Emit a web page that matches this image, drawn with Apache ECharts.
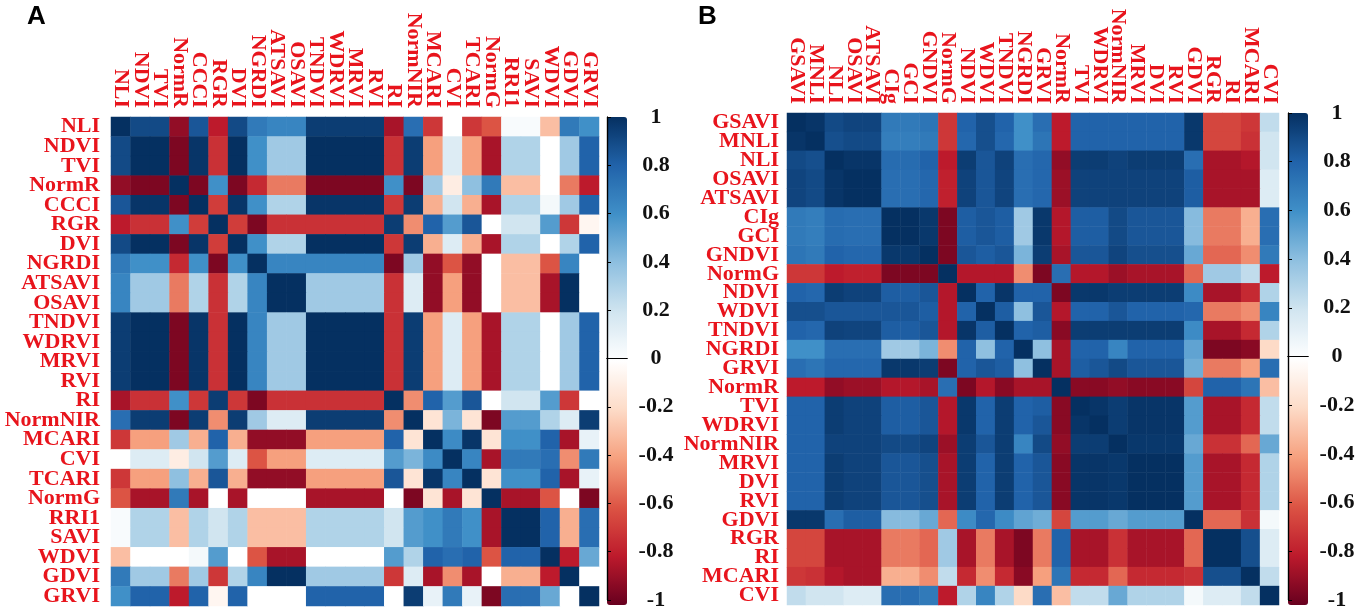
<!DOCTYPE html>
<html>
<head>
<meta charset="utf-8">
<script src="https://cdn.jsdelivr.net/npm/echarts@6/dist/echarts.min.js"></script>
<style>
  html, body { margin: 0; padding: 0; background: #fff; }
  #main { width: 1358px; height: 611px; }
</style>
</head>
<body>
<div id="main"></div>
<script>
// panel A variables (rows top->bottom, columns left->right)
const namesA = ['NLI', 'NDVI', 'TVI', 'NormR', 'CCCI', 'RGR', 'DVI', 'NGRDI', 'ATSAVI', 'OSAVI',
  'TNDVI', 'WDRVI', 'MRVI', 'RVI', 'RI', 'NormNIR', 'MCARI', 'CVI', 'TCARI', 'NormG',
  'RRI1', 'SAVI', 'WDVI', 'GDVI', 'GRVI'];

// lower triangle of correlation matrix A
const corrA = [
  [1],
  [0.9, 1],
  [0.9, 1, 1],
  [-0.9, -0.95, -0.95, 1],
  [0.85, 0.98, 0.98, -0.95, 1],
  [-0.8, -0.72, -0.72, 0.6, -0.68, 1],
  [0.9, 1, 1, -0.95, 0.98, -0.68, 1],
  [0.7, 0.6, 0.6, -0.75, 0.6, -0.95, 0.6, 1],
  [0.65, 0.35, 0.35, -0.5, 0.3, -0.72, 0.3, 0.65, 1],
  [0.65, 0.35, 0.35, -0.5, 0.3, -0.72, 0.3, 0.65, 1, 1],
  [0.95, 1, 1, -0.95, 0.98, -0.72, 1, 0.65, 0.35, 0.35, 1],
  [0.95, 1, 1, -0.95, 0.98, -0.72, 1, 0.65, 0.35, 0.35, 1, 1],
  [0.95, 1, 1, -0.95, 0.98, -0.72, 1, 0.65, 0.35, 0.35, 1, 1, 1],
  [0.95, 1, 1, -0.95, 0.98, -0.72, 1, 0.65, 0.35, 0.35, 1, 1, 1, 1],
  [-0.85, -0.72, -0.72, 0.6, -0.7, 0.95, -0.7, -0.95, -0.72, -0.72, -0.72, -0.72, -0.72, -0.72, 1],
  [0.75, 0.95, 0.95, -0.95, 0.95, -0.45, 0.95, 0.35, 0.15, 0.15, 0.95, 0.95, 0.95, 0.95, -0.45, 1],
  [-0.7, -0.4, -0.4, 0.35, -0.35, 0.8, -0.35, -0.9, -0.9, -0.9, -0.4, -0.4, -0.4, -0.4, 0.8, -0.15, 1],
  [0, 0.15, 0.15, -0.1, 0.2, 0.55, 0.15, -0.6, -0.4, -0.4, 0.15, 0.15, 0.15, 0.15, 0.55, 0.45, 0.62, 1],
  [-0.7, -0.4, -0.4, 0.4, -0.35, 0.85, -0.35, -0.9, -0.9, -0.9, -0.4, -0.4, -0.4, -0.4, 0.85, -0.15, 0.98, 0.65, 1],
  [-0.6, -0.85, -0.85, 0.7, -0.85, 0, -0.85, 0, 0, 0, -0.85, -0.85, -0.85, -0.85, 0, -0.95, -0.15, -0.85, -0.15, 1],
  [0.03, 0.3, 0.3, -0.3, 0.3, 0.2, 0.3, -0.3, -0.3, -0.3, 0.3, 0.3, 0.3, 0.3, 0.2, 0.55, 0.6, 0.7, 0.6, -0.85, 1],
  [0.03, 0.3, 0.3, -0.3, 0.3, 0.2, 0.3, -0.3, -0.3, -0.3, 0.3, 0.3, 0.3, 0.3, 0.2, 0.55, 0.6, 0.7, 0.6, -0.85, 1, 1],
  [-0.3, 0, 0, 0, 0.05, 0.55, 0, -0.6, -0.85, -0.85, 0, 0, 0, 0, 0.55, 0.3, 0.8, 0.75, 0.8, -0.6, 0.8, 0.8, 1],
  [0.7, 0.35, 0.35, -0.5, 0.35, -0.7, 0.3, 0.65, 1, 1, 0.35, 0.35, 0.35, 0.35, -0.7, 0.15, -0.85, -0.45, -0.85, 0, -0.35, -0.35, -0.8, 1],
  [0.6, 0.8, 0.8, -0.8, 0.8, -0.05, 0.8, 0, 0, 0, 0.8, 0.8, 0.8, 0.8, 0, 0.95, 0.1, 0.7, 0.1, -0.95, 0.75, 0.75, 0.5, 0, 1]
];

// panel B variables
const namesB = ['GSAVI', 'MNLI', 'NLI', 'OSAVI', 'ATSAVI', 'CIg', 'GCI', 'GNDVI', 'NormG', 'NDVI',
  'WDVI', 'TNDVI', 'NGRDI', 'GRVI', 'NormR', 'TVI', 'WDRVI', 'NormNIR', 'MRVI', 'DVI',
  'RVI', 'GDVI', 'RGR', 'RI', 'MCARI', 'CVI'];

// lower triangle of correlation matrix B
const corrB = [
  [1],
  [0.98, 1],
  [0.9, 0.88, 1],
  [0.92, 0.9, 0.98, 1],
  [0.92, 0.9, 0.98, 1, 1],
  [0.7, 0.68, 0.76, 0.75, 0.75, 1],
  [0.7, 0.68, 0.76, 0.75, 0.75, 1, 1],
  [0.72, 0.7, 0.8, 0.78, 0.78, 0.97, 0.97, 1],
  [-0.7, -0.7, -0.8, -0.78, -0.78, -0.95, -0.95, -0.95, 1],
  [0.8, 0.78, 0.95, 0.93, 0.93, 0.82, 0.82, 0.85, -0.82, 1],
  [0.88, 0.88, 0.85, 0.85, 0.85, 0.85, 0.85, 0.82, -0.82, 0.8, 1],
  [0.8, 0.78, 0.93, 0.92, 0.92, 0.82, 0.82, 0.85, -0.82, 0.98, 0.82, 1],
  [0.6, 0.6, 0.75, 0.75, 0.75, 0.35, 0.35, 0.45, -0.45, 0.8, 0.4, 0.8, 1],
  [0.75, 0.72, 0.78, 0.78, 0.78, 0.97, 0.97, 0.95, -0.95, 0.8, 0.85, 0.82, 0.4, 1],
  [-0.8, -0.8, -0.9, -0.88, -0.88, -0.82, -0.82, -0.85, 0.75, -0.95, -0.82, -0.92, -0.85, -0.85, 1],
  [0.8, 0.8, 0.95, 0.93, 0.93, 0.82, 0.82, 0.85, -0.82, 0.97, 0.8, 0.95, 0.8, 0.82, -0.92, 1],
  [0.8, 0.8, 0.95, 0.93, 0.93, 0.82, 0.82, 0.85, -0.82, 0.97, 0.8, 0.95, 0.8, 0.85, -0.92, 0.98, 1],
  [0.8, 0.8, 0.93, 0.93, 0.93, 0.9, 0.9, 0.92, -0.88, 0.95, 0.85, 0.95, 0.65, 0.9, -0.9, 0.95, 0.95, 1],
  [0.8, 0.8, 0.95, 0.93, 0.93, 0.85, 0.85, 0.88, -0.85, 0.95, 0.8, 0.95, 0.8, 0.85, -0.92, 0.98, 0.98, 0.97, 1],
  [0.8, 0.8, 0.95, 0.93, 0.93, 0.85, 0.85, 0.88, -0.85, 0.95, 0.8, 0.95, 0.8, 0.85, -0.92, 0.98, 0.98, 0.97, 1, 1],
  [0.8, 0.8, 0.95, 0.93, 0.93, 0.85, 0.85, 0.88, -0.85, 0.95, 0.8, 0.95, 0.8, 0.85, -0.92, 0.98, 0.98, 0.97, 1, 1, 1],
  [0.97, 0.97, 0.75, 0.82, 0.82, 0.42, 0.42, 0.5, -0.55, 0.62, 0.78, 0.62, 0.52, 0.48, -0.65, 0.55, 0.55, 0.5, 0.55, 0.55, 0.55, 1],
  [-0.65, -0.65, -0.85, -0.85, -0.85, -0.5, -0.5, -0.55, 0.35, -0.85, -0.5, -0.85, -0.95, -0.5, 0.8, -0.85, -0.85, -0.72, -0.85, -0.85, -0.85, -0.55, 1],
  [-0.65, -0.65, -0.85, -0.85, -0.85, -0.5, -0.5, -0.55, 0.35, -0.85, -0.5, -0.85, -0.95, -0.5, 0.8, -0.85, -0.85, -0.72, -0.85, -0.85, -0.85, -0.55, 1, 1],
  [-0.7, -0.72, -0.82, -0.85, -0.85, -0.35, -0.35, -0.45, 0.25, -0.75, -0.45, -0.75, -0.92, -0.4, 0.72, -0.75, -0.75, -0.55, -0.75, -0.75, -0.75, -0.72, 0.88, 0.88, 1],
  [0.25, 0.2, 0.2, 0.15, 0.15, 0.75, 0.75, 0.7, -0.8, 0.3, 0.65, 0.3, -0.2, 0.75, -0.3, 0.25, 0.25, 0.5, 0.3, 0.3, 0.3, 0.05, 0.15, 0.15, 0.25, 1]
];

const cmap = ['#67001f', '#bd1a2c', '#dc5444', '#f6a07e', '#fddbc7', '#ffffff',
  '#d1e5f0', '#8fc0e0', '#4090c8', '#2163aa', '#053061'];

// expand triangle -> [x, y, value] cells
function cells(tri) {
  const out = [];
  const n = tri.length;
  for (let r = 0; r < n; r++) {
    for (let c = 0; c < n; c++) {
      const v = r >= c ? tri[r][c] : tri[c][r];
      out.push([c, r, v]);
    }
  }
  return out;
}

const chart = echarts.init(document.getElementById('main'), null, { renderer: 'canvas' });

const serif = 'Liberation Serif, Times New Roman, serif';
const redLab = { color: '#e8141c', fontFamily: serif, fontWeight: 'bold', fontSize: 22 };

function heatAxes(names, gi, ym) {
  return {
    x: {
      type: 'category', gridIndex: gi, data: names, position: 'top',
      axisLine: { show: false }, axisTick: { show: false }, splitLine: { show: false },
      axisLabel: Object.assign({ rotate: 90, interval: 0, margin: 9 }, redLab)
    },
    y: {
      type: 'category', gridIndex: gi, data: names, inverse: true,
      axisLine: { show: false }, axisTick: { show: false }, splitLine: { show: false },
      axisLabel: Object.assign({ interval: 0, margin: ym }, redLab)
    }
  };
}

function barAxes(gi) {
  const line = { show: true, lineStyle: { color: '#000', width: 1.2 } };
  return {
    xs: [
      { type: 'value', gridIndex: gi, min: 0, max: 1, position: 'bottom', z: 10,
        axisLine: line, axisTick: { show: false }, axisLabel: { show: false }, splitLine: { show: false } },
      { type: 'value', gridIndex: gi, min: 0, max: 1, position: 'top', z: 10,
        axisLine: line, axisTick: { show: false }, axisLabel: { show: false }, splitLine: { show: false } }
    ],
    ys: [
      { type: 'value', gridIndex: gi, min: -1, max: 1, interval: 0.2, position: 'right', z: 10,
        axisLine: line, axisTick: { show: true, length: 4, lineStyle: { color: '#000' } },
        splitLine: { show: false },
        axisLabel: { color: '#111', fontFamily: serif, fontWeight: 'bold', fontSize: 22, align: 'center', margin: 29 } },
      { type: 'value', gridIndex: gi, min: -1, max: 1, position: 'left', z: 10,
        axisLine: line, axisTick: { show: false }, axisLabel: { show: false }, splitLine: { show: false } }
    ]
  };
}

const hA = heatAxes(namesA, 0, 11);
const hB = heatAxes(namesB, 1, 8);
const cA = barAxes(2);
const cB = barAxes(3);

const panelTitle = { fontFamily: 'Liberation Sans, Arial, sans-serif', fontWeight: 'bold', fontSize: 26, color: '#000' };

const option = {
  backgroundColor: '#fff',
  animation: false,
  title: [
    { text: 'A', left: 27, top: 4, padding: 0, textStyle: panelTitle },
    { text: 'B', left: 698, top: 4, padding: 0, textStyle: panelTitle }
  ],
  grid: [
    { left: 111, top: 117, width: 488, height: 489 },
    { left: 787, top: 113, width: 492, height: 492 },
    { left: 607, top: 117, width: 20, height: 488 },
    { left: 1288, top: 113, width: 20, height: 492 }
  ],
  xAxis: [hA.x, hB.x, cA.xs[0], cA.xs[1], cB.xs[0], cB.xs[1]],
  yAxis: [hA.y, hB.y, cA.ys[0], cA.ys[1], cB.ys[0], cB.ys[1]],
  visualMap: [
    { type: 'continuous', min: -1, max: 1, seriesIndex: 0, calculable: false, realtime: false,
      itemWidth: 20, itemHeight: 488, left: 607, top: 117, padding: 0, text: null,
      hoverLink: false, inRange: { color: cmap } },
    { type: 'continuous', min: -1, max: 1, seriesIndex: 1, calculable: false, realtime: false,
      itemWidth: 20, itemHeight: 492, left: 1288, top: 113, padding: 0, text: null,
      hoverLink: false, inRange: { color: cmap } }
  ],
  series: [
    { type: 'heatmap', xAxisIndex: 0, yAxisIndex: 0, data: cells(corrA), itemStyle: { borderWidth: 0 } },
    { type: 'heatmap', xAxisIndex: 1, yAxisIndex: 1, data: cells(corrB), itemStyle: { borderWidth: 0 } }
  ]
};

chart.setOption(option);
</script>
</body>
</html>
